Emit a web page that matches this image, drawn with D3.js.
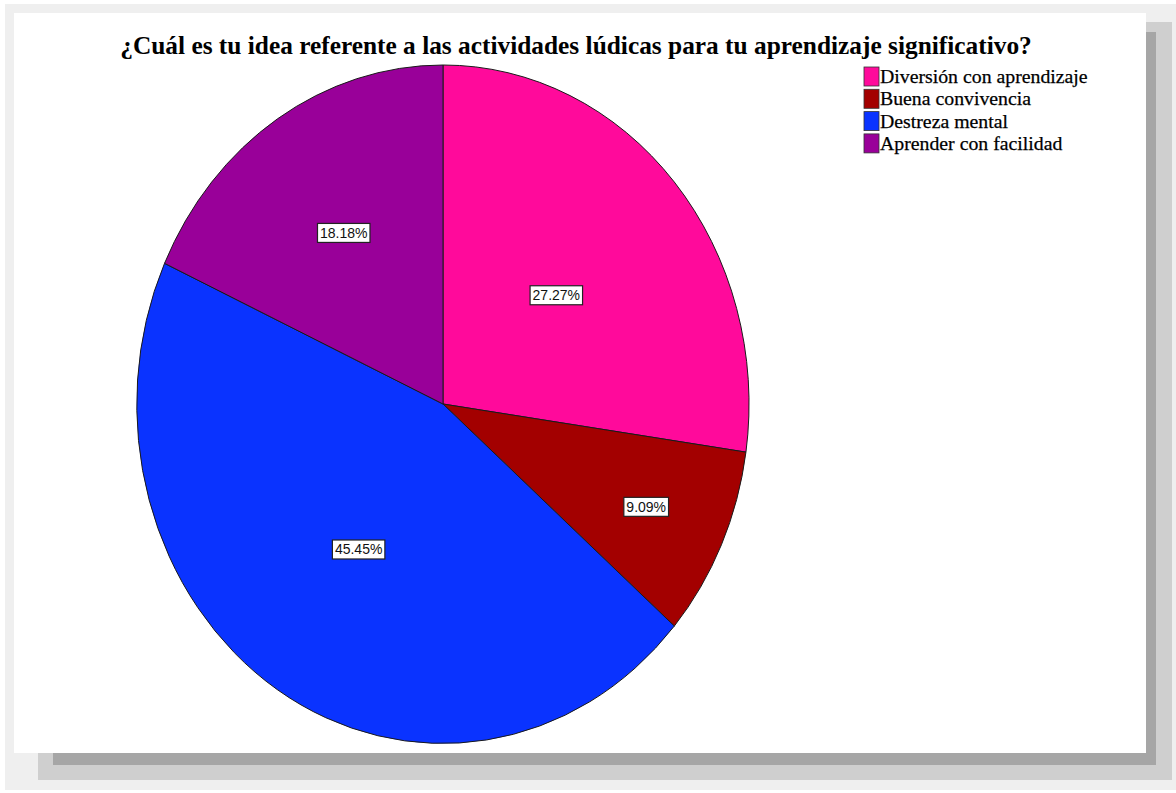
<!DOCTYPE html>
<html>
<head>
<meta charset="utf-8">
<script src="https://cdn.jsdelivr.net/npm/d3@7"></script>
<style>
  html, body { margin: 0; padding: 0; background: #ffffff; }
  svg { display: block; }
</style>
</head>
<body>
<svg id="chart" width="1176" height="793"></svg>
<script>
// Chart content
const titleText = "¿Cuál es tu idea referente a las actividades lúdicas para tu aprendizaje significativo?";
const categories = ["Diversión con aprendizaje", "Buena convivencia", "Destreza mental", "Aprender con facilidad"];
const percents = [27.27, 9.09, 45.45, 18.18];
const sliceColors = ["#ff0a9b", "#a30000", "#0a33ff", "#990099"];
// how far out (fraction of radius) each percentage label sits
const labelRadius = [0.49, 0.73, 0.51, 0.6];

const svg = d3.select("#chart");

// Framed panel with a soft stepped drop shadow
svg.append("rect").attr("x", 5).attr("y", 4).attr("width", 1171).attr("height", 786).attr("fill", "#efefef");
svg.append("rect").attr("x", 38).attr("y", 22).attr("width", 1134).attr("height", 758).attr("fill", "#cfcfcf");
svg.append("rect").attr("x", 53).attr("y", 32).attr("width", 1103).attr("height", 733).attr("fill", "#a6a6a6");
svg.append("rect").attr("x", 14).attr("y", 13).attr("width", 1132).attr("height", 740).attr("fill", "#ffffff");

// Title, fitted to its span
const title = svg.append("text")
  .attr("x", 576).attr("y", 54)
  .attr("text-anchor", "middle")
  .attr("font-family", "'Liberation Serif', 'Times New Roman', serif")
  .attr("font-weight", "bold")
  .attr("font-size", 21)
  .attr("fill", "#000")
  .text(titleText);
const tw = title.node().getComputedTextLength();
title.attr("font-size", 21 * 912 / tw);

// Pie (drawn on a unit circle, then stretched to the plot's ellipse)
const cx = 443, cy = 404, rx = 306, ry = 339;
const pie = d3.pie().sort(null).value(d => d)(percents);
const arc = d3.arc().innerRadius(0).outerRadius(1);

const pieG = svg.append("g").attr("transform", `translate(${cx},${cy}) scale(${rx},${ry})`);
pieG.selectAll("path")
  .data(pie)
  .join("path")
  .attr("d", arc)
  .attr("fill", (d, i) => sliceColors[i])
  .attr("stroke", "#1a1a1a")
  .attr("stroke-width", 1)
  .attr("vector-effect", "non-scaling-stroke");

// Percentage labels in white boxes
const labelG = svg.append("g");
pie.forEach((d, i) => {
  const mid = (d.startAngle + d.endAngle) / 2;
  const lx = cx + rx * labelRadius[i] * Math.sin(mid);
  const ly = cy - ry * labelRadius[i] * Math.cos(mid);
  const g = labelG.append("g").attr("transform", `translate(${lx},${ly})`);
  const t = g.append("text")
    .attr("text-anchor", "middle")
    .attr("dy", "0.36em")
    .attr("font-family", "'Liberation Sans', Arial, sans-serif")
    .attr("font-size", 14)
    .attr("fill", "#111")
    .text(percents[i].toFixed(2) + "%");
  const bb = t.node().getBBox();
  g.insert("rect", "text")
    .attr("x", bb.x - 2.5).attr("y", bb.y - 1.5)
    .attr("width", bb.width + 5).attr("height", bb.height + 3)
    .attr("fill", "#ffffff")
    .attr("stroke", "#222")
    .attr("stroke-width", 1.2);
});

// Legend
const legend = svg.append("g").attr("transform", "translate(864,67)");
const rows = legend.selectAll("g")
  .data(categories)
  .join("g")
  .attr("transform", (d, i) => `translate(0,${i * 22.3})`);
rows.append("rect")
  .attr("width", 15).attr("height", 19)
  .attr("fill", (d, i) => sliceColors[i])
  .attr("stroke", "#333").attr("stroke-width", 0.8);
rows.append("text")
  .attr("x", 16).attr("y", 16)
  .attr("font-family", "'Liberation Serif', 'Times New Roman', serif")
  .attr("font-size", 19.8)
  .attr("fill", "#000")
  .attr("stroke", "#000").attr("stroke-width", 0.25)
  .text(d => d);
</script>
</body>
</html>
